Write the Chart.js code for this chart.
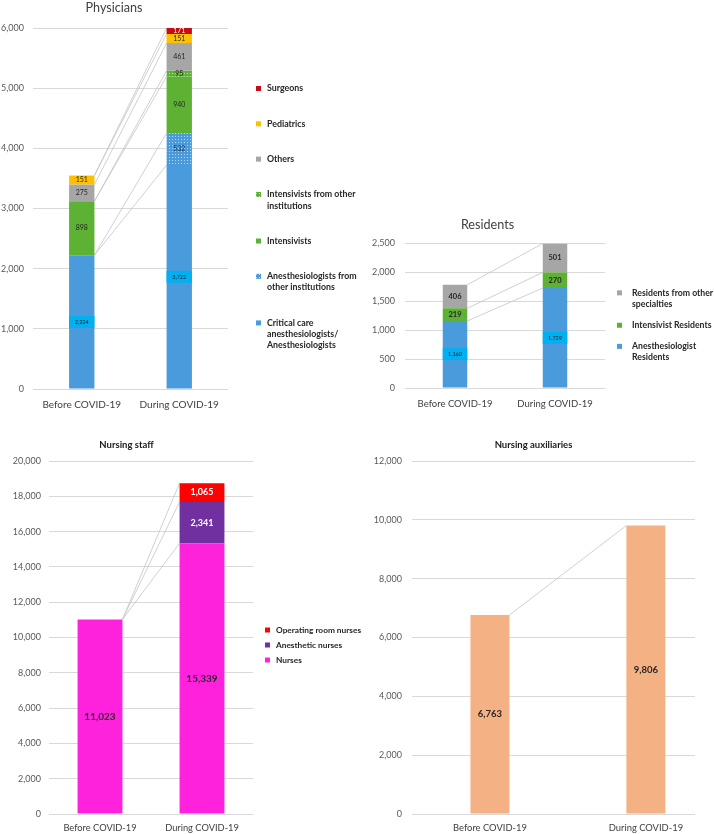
<!DOCTYPE html>
<html lang="en">
<head>
<meta charset="UTF-8" />
<title>Staff before and during COVID-19</title>
<script src="https://cdn.jsdelivr.net/npm/chart.js@4.4.1/dist/chart.umd.min.js"></script>
<style>
  html, body { margin: 0; padding: 0; background: #fff; overflow: hidden; }
  body { width: 714px; height: 834px; position: relative; }
  canvas { position: absolute; }
</style>
</head>
<body>
<canvas id="physicians" width="360" height="415" style="left:0;top:0"></canvas>
<canvas id="residents" width="370" height="202" style="left:370px;top:210px"></canvas>
<canvas id="nursing" width="376" height="404" style="left:-14px;top:430px"></canvas>
<canvas id="auxiliaries" width="346" height="404" style="left:372px;top:430px"></canvas>

<script>
  // ---- data ----
  const periods = ["Before COVID-19", "During COVID-19"];

  // physicians, bottom of the stack first
  const physicianGroups = [
    "Critical care\nanesthesiologists/\nAnesthesiologists",
    "Anesthesiologists from\nother institutions",
    "Intensivists",
    "Intensivists from other\ninstitutions",
    "Others",
    "Pediatrics",
    "Surgeons",
  ];
  const criticalCare = [2224, 3722];
  const anesthOther = [0, 532];
  const intensivists = [898, 940];
  const intensOther = [0, 95];
  const physOthers = [275, 461];
  const pediatrics = [151, 151];
  const surgeons = [0, 171];

  // residents
  const residentGroups = [
    "Anesthesiologist\nResidents",
    "Intensivist Residents",
    "Residents from other\nspecialties",
  ];
  const anesthResidents = [1160, 1729];
  const intensResidents = [219, 270];
  const otherResidents = [406, 501];

  // nursing staff
  const nursingGroups = ["Nurses", "Anesthetic nurses", "Operating room nurses"];
  const nurses = [11023, 15339];
  const anestheticNurses = [0, 2341];
  const orNurses = [0, 1065];

  // nursing auxiliaries
  const auxiliaries = [6763, 9806];

  // ---- helpers ----
  Chart.defaults.font.family = "Lato, 'DejaVu Sans', sans-serif";

  function dotted(base) {
    const c = document.createElement("canvas");
    c.width = 3;
    c.height = 3;
    const g = c.getContext("2d");
    g.fillStyle = base;
    g.fillRect(0, 0, 3, 3);
    g.fillStyle = "rgba(255,255,255,0.6)";
    g.fillRect(1, 1, 1, 1);
    return g.createPattern(c, "repeat");
  }

  const blue = "#4A9BDB";
  const green = "#5DB133";
  const grey = "#A6A6A6";

  // grey connector lines between the tops of matching segments
  const seriesLines = {
    id: "seriesLines",
    beforeDatasetsDraw(chart) {
      const { ctx, chartArea } = chart;
      ctx.save();
      ctx.strokeStyle = "#C4C4C4";
      ctx.lineWidth = 0.8;
      chart.data.datasets.forEach((ds, i) => {
        const bars = chart.getDatasetMeta(i).data;
        const a = bars[0], b = bars[1];
        ctx.beginPath();
        ctx.moveTo(a.x + a.width / 2, Math.max(a.y, chartArea.top));
        ctx.lineTo(b.x - b.width / 2, Math.max(b.y, chartArea.top));
        ctx.stroke();
      });
      ctx.restore();
    },
  };

  // value printed in the middle of every segment
  const segmentLabels = {
    id: "segmentLabels",
    afterDatasetsDraw(chart) {
      const { ctx, chartArea } = chart;
      ctx.save();
      ctx.textAlign = "center";
      ctx.textBaseline = "middle";
      chart.data.datasets.forEach((ds, i) => {
        const st = ds.valueLabel || {};
        chart.getDatasetMeta(i).data.forEach((bar, j) => {
          const raw = ds.data[j];
          const v = typeof raw === "object" ? raw.y : raw;
          if (!v) return;
          const cy = (Math.max(bar.y, chartArea.top) + bar.base) / 2;
          if (st.box) {
            ctx.fillStyle = st.box;
            ctx.fillRect(bar.x - bar.width / 2, cy - 6, bar.width, 12);
          }
          ctx.font = (st.bold ? "bold " : "") + st.size + "px Lato, sans-serif";
          ctx.fillStyle = st.color;
          ctx.fillText(v.toLocaleString("en-US"), bar.x, cy);
        });
      });
      ctx.restore();
    },
  };

  // legend at the right of the plot, top series first, wrapped labels
  const sideLegend = {
    id: "sideLegend",
    afterDraw(chart, args, opts) {
      const { ctx, chartArea } = chart;
      const items = chart.data.datasets
        .map((ds) => ({ lines: ds.label.split("\n"), color: ds.backgroundColor }))
        .reverse();
      const lh = opts.lineHeight;
      const total =
        items.reduce((s, it) => s + it.lines.length * lh, 0) + opts.spacing * (items.length - 1);
      let y = (chartArea.top + chartArea.bottom - total) / 2 + opts.shift;
      const x = chartArea.right + opts.gap;
      ctx.save();
      ctx.font = "bold " + opts.size + "px Lato, sans-serif";
      ctx.textBaseline = "middle";
      ctx.textAlign = "left";
      items.forEach((it) => {
        ctx.fillStyle = it.color;
        ctx.fillRect(x, y + lh / 2 - 2.5, 5, 5);
        ctx.fillStyle = "#262626";
        it.lines.forEach((line, k) => ctx.fillText(line, x + opts.textOffset, y + lh / 2 + k * lh));
        y += it.lines.length * lh + opts.spacing;
      });
      ctx.restore();
    },
  };

  function xAxis(size, pad, height) {
    return {
      stacked: true,
      grid: { display: false, drawTicks: false },
      border: { display: false },
      afterFit: (s) => { s.height = height; },
      ticks: { color: "#404040", font: { size: size }, padding: pad, maxRotation: 0 },
    };
  }

  function yAxis(max, step, pad, width) {
    return {
      stacked: true,
      min: 0,
      max: max,
      grid: { color: "#D9D9D9", drawTicks: false },
      border: { display: false },
      afterFit: (s) => { s.width = width; },
      ticks: { stepSize: step, padding: pad, color: "#595959", font: { size: 9 } },
    };
  }

  function sets(names, values, colors, labels) {
    return values.map((vals, i) => ({
      label: names[i],
      data: vals,
      backgroundColor: colors[i],
      valueLabel: labels[i],
    }));
  }

  const small = { color: "#262626", size: 7 };

  // ---- physicians ----
  new Chart(document.getElementById("physicians"), {
    type: "bar",
    data: {
      labels: periods,
      datasets: sets(
        physicianGroups,
        [criticalCare, anesthOther, intensivists, intensOther, physOthers, pediatrics, surgeons],
        [blue, dotted(blue), green, dotted(green), grey, "#FFC000", "#CC0A14"],
        [
          { box: "#00B0F0", color: "#1F1F1F", size: 5.5 },
          { color: "#1F3864", size: 7 },
          small, small, small, small,
          { color: "#FFFFFF", size: 7 },
        ]
      ),
    },
    options: {
      responsive: false,
      animation: false,
      layout: { padding: { left: 0, right: 132, top: 0, bottom: 4 } },
      datasets: { bar: { barPercentage: 1, categoryPercentage: 0.26 } },
      plugins: {
        title: {
          display: true,
          text: "Physicians",
          color: "#404040",
          font: { size: 12.6, weight: "normal" },
          padding: { top: 0.5, bottom: 12.4 },
        },
        legend: { display: false },
        sideLegend: { gap: 28, textOffset: 11, size: 8.8, lineHeight: 11.3, spacing: 24, shift: 8.5 },
        tooltip: { enabled: false },
      },
      scales: { x: xAxis(10, 10, 22), y: yAxis(6000, 1000, 9, 33) },
    },
    plugins: [seriesLines, segmentLabels, sideLegend],
  });

  // ---- residents ----
  const resBold = { color: "#262626", size: 7.5, bold: true };
  new Chart(document.getElementById("residents"), {
    type: "bar",
    data: {
      labels: periods,
      datasets: sets(
        residentGroups,
        [anesthResidents, intensResidents, otherResidents],
        [blue, green, grey],
        [{ box: "#00B0F0", color: "#1F1F1F", size: 5.5 }, resBold, resBold]
      ),
    },
    options: {
      responsive: false,
      animation: false,
      layout: { padding: { left: 0, right: 135, top: 0, bottom: 2 } },
      datasets: { bar: { barPercentage: 1, categoryPercentage: 0.245 } },
      plugins: {
        title: {
          display: true,
          text: "Residents",
          color: "#404040",
          font: { size: 12.6, weight: "normal" },
          padding: { top: 7.4, bottom: 11 },
        },
        legend: { display: false },
        sideLegend: { gap: 12, textOffset: 15, size: 8.7, lineHeight: 11.3, spacing: 9.8, shift: 9.5 },
        tooltip: { enabled: false },
      },
      scales: { x: xAxis(9.5, 10, 22), y: yAxis(2500, 500, 10, 35) },
    },
    plugins: [seriesLines, segmentLabels, sideLegend],
  });

  // ---- nursing staff ----
  const white = { color: "#FFFFFF", size: 9, bold: true };
  new Chart(document.getElementById("nursing"), {
    type: "bar",
    data: {
      labels: periods,
      datasets: sets(
        nursingGroups,
        [nurses, anestheticNurses, orNurses],
        ["#FF22DD", "#7030A0", "#FF0000"],
        [{ color: "#262626", size: 10, bold: true }, white, white]
      ),
    },
    options: {
      responsive: false,
      animation: false,
      layout: { padding: { left: 14, right: 109, top: 0, bottom: 0 } },
      datasets: { bar: { barPercentage: 1, categoryPercentage: 0.44 } },
      plugins: {
        title: {
          display: true,
          text: "Nursing staff",
          color: "#1A1A1A",
          font: { size: 9.5, weight: "bold" },
          padding: { top: 9, bottom: 10.6 },
        },
        legend: { display: false },
        sideLegend: { gap: 12, textOffset: 11, size: 8.3, lineHeight: 10.2, spacing: 4.8, shift: 7.5 },
        tooltip: { enabled: false },
      },
      scales: { x: xAxis(9.3, 8, 20), y: yAxis(20000, 2000, 8, 49) },
    },
    plugins: [seriesLines, segmentLabels, sideLegend],
  });

  // ---- nursing auxiliaries ----
  new Chart(document.getElementById("auxiliaries"), {
    type: "bar",
    data: {
      datasets: [
        {
          label: "Nursing auxiliaries",
          data: auxiliaries.map((v, i) => ({ x: i, y: v })),
          backgroundColor: "#F4B183",
          valueLabel: { color: "#262626", size: 9.5, bold: true },
        },
      ],
    },
    options: {
      responsive: false,
      animation: false,
      layout: { padding: { left: 0, right: 23, top: 0, bottom: 0 } },
      datasets: { bar: { barPercentage: 1, categoryPercentage: 0.25 } },
      plugins: {
        title: {
          display: true,
          text: "Nursing auxiliaries",
          color: "#1A1A1A",
          font: { size: 9.5, weight: "bold" },
          padding: { top: 9, bottom: 10.6 },
        },
        legend: { display: false },
        tooltip: { enabled: false },
      },
      scales: {
        x: {
          type: "linear",
          min: -0.5,
          max: 1.315,
          offset: false,
          grid: { display: false, drawTicks: false },
          border: { display: false },
          afterFit: (s) => { s.height = 20; },
          afterBuildTicks: (s) => {
            s.ticks = s.ticks.filter((t) => periods[t.value] !== undefined);
          },
          ticks: {
            stepSize: 1,
            autoSkip: false,
            maxRotation: 0,
            padding: 8,
            color: "#404040",
            font: { size: 9.4 },
            callback: (v) => periods[v] || "",
          },
        },
        y: yAxis(12000, 2000, 10, 40),
      },
    },
    plugins: [seriesLines, segmentLabels],
  });
</script>
</body>
</html>
